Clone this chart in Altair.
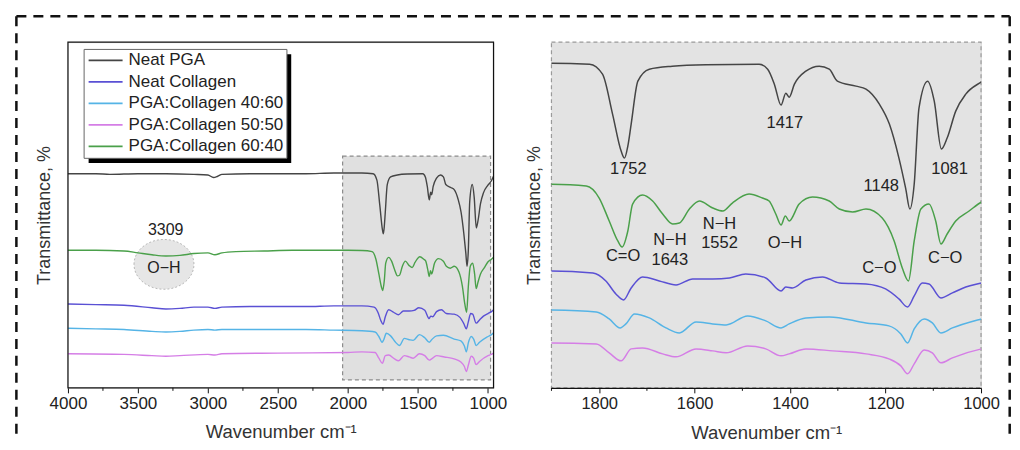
import altair as alt
import pandas as pd

series_names = ["Neat PGA", "Neat Collagen", "PGA:Collagen 40:60",
                "PGA:Collagen 50:50", "PGA:Collagen 60:40"]
series_colors = ["#454545", "#5a50d4", "#55b4e6", "#d57ee6", "#4aa04a"]

wn_pga = [4000, 3800, 3700, 3500, 3300, 3100, 3000, 2960, 2930, 2900, 2700, 2500, 2300, 2100, 1900,
          1820, 1793, 1772, 1754, 1747, 1740, 1733, 1719, 1695, 1647, 1576, 1465, 1447, 1433, 1419,
          1409, 1402, 1391, 1367, 1339, 1318, 1301, 1262, 1241, 1213, 1192, 1172, 1158, 1149, 1140,
          1130, 1112, 1098, 1083, 1071, 1053, 1032, 1000, 975, 960]
t_pga = [337, 337, 336, 337, 337, 336, 335, 331, 333, 336, 337, 337, 337, 338, 338,
         337, 327, 287, 250, 243, 255, 277, 320, 332, 335, 336.5, 337, 332, 317, 296,
         308, 304, 317, 330, 335, 332, 320, 315, 312, 297, 277, 243, 213, 192, 217,
         293, 320, 300, 252, 263, 290, 307, 319, 326, 333]

wn_col = [4000, 3800, 3600, 3400, 3300, 3200, 3100, 3000, 2950, 2900, 2700, 2500, 2300, 2100, 1900,
          1813, 1786, 1765, 1749, 1733, 1709, 1674, 1639, 1604, 1562, 1527, 1493, 1451, 1419, 1409,
          1395, 1367, 1332, 1297, 1241, 1200, 1172, 1154, 1140, 1123, 1109, 1084, 1060, 1032, 999,
          975, 960]
t_col = [133, 132, 131, 127, 125, 126, 128, 128, 126, 128, 129, 129, 129, 130, 130,
         128, 120, 107, 101, 113, 124, 120, 116, 122, 122, 123, 127, 123, 110, 114,
         113, 121, 124, 118, 117, 112, 102, 94, 105, 118, 117, 103, 108, 114, 118,
         121, 124]

wn_4060 = [4000, 3800, 3600, 3400, 3300, 3200, 3100, 3000, 2950, 2900, 2700, 2500, 2300, 2100, 1900,
           1806, 1779, 1756, 1744, 1726, 1695, 1660, 1632, 1597, 1562, 1534, 1489, 1451, 1419, 1402,
           1367, 1318, 1241, 1193, 1168, 1154, 1140, 1119, 1102, 1084, 1060, 999, 975, 960]
t_4060 = [95, 94, 93, 90, 89, 90, 92, 93, 92, 93, 93, 93, 93, 92, 91,
          89, 82, 73, 77, 87, 83, 73, 68, 79, 77, 76, 85, 80, 73, 77,
          83, 84, 78, 75, 67, 58, 72, 82, 78, 68, 73, 82, 85, 88]

wn_5050 = [4000, 3600, 3400, 3300, 3200, 3000, 2950, 2900, 2500, 2000, 1900,
           1806, 1779, 1754, 1733, 1709, 1667, 1639, 1597, 1562, 1534, 1489, 1451, 1419, 1402,
           1367, 1311, 1241, 1193, 1168, 1154, 1140, 1119, 1102, 1084, 1060, 999, 975, 960]
t_5050 = [55, 54, 52, 51, 52, 54, 53, 55, 56, 57, 58,
          57, 48, 40, 52, 53, 47, 44, 52, 50, 48, 55, 52, 45, 47,
          52, 50, 47, 42, 35, 27, 37, 51, 48, 38, 43, 52, 54, 56]

wn_6040 = [4000, 3800, 3600, 3500, 3400, 3300, 3200, 3100, 3000, 2950, 2900, 2800, 2600, 2400, 2200,
           2000, 1900, 1827, 1800, 1779, 1761, 1752, 1740, 1730, 1709, 1688, 1667, 1646, 1632, 1611,
           1590, 1562, 1541, 1521, 1486, 1458, 1444, 1430, 1419, 1410, 1402, 1381, 1353, 1318, 1297,
           1269, 1241, 1207, 1182, 1165, 1152, 1140, 1126, 1109, 1095, 1084, 1071, 1053, 1025, 999,
           975, 960]
t_6040 = [217, 217, 216, 213, 210, 208, 209, 212, 213, 210, 213, 215, 216, 217, 217,
          217, 216.7, 215, 203, 180, 160, 154, 170, 197, 206, 200, 187, 177, 178, 192,
          200, 193, 190, 198, 207, 203, 200, 187, 176, 185, 180, 197, 204, 200, 192,
          189, 192, 183, 160, 133, 120, 160, 192, 197, 180, 157, 167, 180, 190, 199,
          203, 206]

left_ticks = [4000, 3500, 3000, 2500, 2000, 1500, 1000]
left_minor = [3750, 3250, 2750, 2250, 1750, 1250]
right_ticks = [1800, 1600, 1400, 1200, 1000]
right_minor = [1900, 1700, 1500, 1300, 1100]

right_lab_text = ["1752", "1417", "1148", "1081", "C=O", "N\u2212H", "1643", "N\u2212H", "1552",
                  "O\u2212H", "C\u2212O", "C\u2212O"]
right_lab_wn = [1739, 1411, 1209, 1066, 1750, 1652, 1652, 1548, 1548, 1411, 1213, 1075]
right_lab_t = [231.7, 278.3, 215, 231.7, 145, 160.7, 141, 176.7, 157.7, 158.3, 133.3, 143.3]

left_lab_text = ["3309", "O\u2212H"]
left_lab_wn = [3302, 3314]
left_lab_t = [248.4, 189.8]

oh_wn = [3314]
oh_t = [195]
zoom_wn = [2038, 981]
zoom_t = [14, 364.6]

FONT = "Liberation Sans"
LW, LH = 426, 346
RW, RH = 430, 346

rows = []
for name, wn, t in zip(series_names, [wn_pga, wn_col, wn_4060, wn_5050, wn_6040],
                       [t_pga, t_col, t_4060, t_5050, t_6040]):
    for i, (w, v) in enumerate(zip(wn, t)):
        rows.append({"wn": w, "t": v, "series": name, "order": i})
df = pd.DataFrame(rows)

one = pd.DataFrame({"k": [0]})

# ---------------- left panel ----------------
xl = alt.X("wn:Q", scale=alt.Scale(domain=[4000, 960], nice=False, zero=False),
           axis=alt.Axis(values=left_ticks, format="d", title="Wavenumber cm\u207b\u00b9",
                         domain=False, grid=False, tickSize=5, tickColor="#111", tickWidth=1,
                         labelFlush=False, labelFontSize=17, labelPadding=3, labelColor="#222",
                         titleFontSize=18.5, titlePadding=11, titleColor="#333",
                         titleFontWeight="normal"))
yl = alt.Y("t:Q", scale=alt.Scale(domain=[1.6, 543], nice=False, zero=False),
           axis=alt.Axis(title="Transmittance, %", labels=False, ticks=False, domain=False,
                         grid=False, titleFontSize=18, titlePadding=14, titleColor="#333",
                         titleFontWeight="normal"))

zoom_df = pd.DataFrame({"wn": [zoom_wn[0]], "wn2": [zoom_wn[1]], "t": [zoom_t[0]], "t2": [zoom_t[1]]})
shade = alt.Chart(zoom_df).mark_rect(fill="#e0e0e0", stroke="#8c8c8c", strokeDash=[4, 3],
                                     strokeWidth=1.2).encode(
    x=xl, x2="wn2:Q", y=yl, y2="t2:Q")

oh_df = pd.DataFrame({"wn": oh_wn, "t": oh_t})
ellipse = alt.Chart(oh_df).mark_point(
    shape="M-1,0A1,0.83,0,1,1,1,0A1,0.83,0,1,1,-1,0Z", size=3600, fill="#e6e6e6",
    fillOpacity=1, opacity=1, stroke="#b8b8b8", strokeWidth=1, strokeDash=[2, 2]).encode(x=xl, y=yl)

left_lines = alt.Chart(df).mark_line(strokeWidth=1.4, interpolate="monotone").encode(
    x=xl, y=yl, order="order:Q",
    color=alt.Color("series:N", scale=alt.Scale(domain=series_names, range=series_colors),
                    legend=alt.Legend(title=None, orient="none", legendX=15.7, legendY=6.75,
                                      symbolType="M-3.4,0L3.4,0", symbolSize=100,
                                      symbolStrokeWidth=1.8, symbolOffset=10.5,
                                      labelOffset=14.5, labelFontSize=17, labelColor="#222",
                                      labelFont=FONT, rowPadding=3.5, padding=3,
                                      fillColor="white", strokeColor="#666")))

left_lab_df = pd.DataFrame({"wn": left_lab_wn, "t": left_lab_t, "txt": left_lab_text})
left_text = alt.Chart(left_lab_df).mark_text(fontSize=16, font=FONT, color="#222",
                                             align="center", baseline="middle").encode(
    x=xl, y=yl, text="txt:N")

shadow = alt.Chart(one).mark_rect(fill="#000").encode(
    x=alt.value(20.7), x2=alt.value(223.5), y=alt.value(12), y2=alt.value(121))

frame_l = alt.Chart(one).mark_rect(fill="transparent", stroke="#111", strokeWidth=1.2).encode(
    x=alt.value(0), x2=alt.value(LW), y=alt.value(0), y2=alt.value(LH))

minor_l = alt.Chart(pd.DataFrame({"wn": left_minor})).mark_rule(color="#111", strokeWidth=1).encode(
    x=xl, y=alt.value(LH), y2=alt.value(LH + 3))

dash_kw = dict(color="#111", strokeWidth=2.5, strokeDash=[10, 7])
b_top = alt.Chart(one).mark_rule(**dash_kw).encode(
    x=alt.value(-51.6), x2=alt.value(942.7), y=alt.value(-26))
b_left = alt.Chart(one).mark_rule(**dash_kw).encode(
    x=alt.value(-51.6), y=alt.value(-26), y2=alt.value(399))
b_right = alt.Chart(one).mark_rule(**dash_kw).encode(
    x=alt.value(942.7), y=alt.value(-26), y2=alt.value(399))

left = alt.layer(shade, ellipse, left_lines, left_text, shadow, frame_l, minor_l,
                 b_top, b_left, b_right).properties(width=LW, height=LH)

# ---------------- right panel ----------------
xr = alt.X("wn:Q", scale=alt.Scale(domain=[1900, 1000], nice=False, zero=False),
           axis=alt.Axis(values=right_ticks, format="d", title="Wavenumber cm\u207b\u00b9",
                         domain=True, domainColor="#111", domainWidth=1.2, grid=False,
                         tickSize=5, tickColor="#111", tickWidth=1, zindex=1,
                         labelFlush=False, labelFontSize=16.5, labelPadding=3, labelColor="#222",
                         titleFontSize=18.5, titlePadding=11, titleColor="#333",
                         titleFontWeight="normal"))
yr = alt.Y("t:Q", scale=alt.Scale(domain=[13, 359], nice=False, zero=False),
           axis=alt.Axis(title="Transmittance, %", labels=False, ticks=False, domain=False,
                         grid=False, titleFontSize=18, titlePadding=8, titleColor="#333",
                         titleFontWeight="normal"))

bg_r = alt.Chart(one).mark_rect(fill="#e3e3e3", stroke="#9a9a9a", strokeDash=[4, 3],
                                strokeWidth=1.2).encode(
    x=alt.value(0), x2=alt.value(RW), y=alt.value(0), y2=alt.value(RH))

right_lines = alt.Chart(df).mark_line(strokeWidth=1.5, interpolate="monotone", clip=True).encode(
    x=xr, y=yr, order="order:Q",
    color=alt.Color("series:N", scale=alt.Scale(domain=series_names, range=series_colors),
                    legend=None))

right_lab_df = pd.DataFrame({"wn": right_lab_wn, "t": right_lab_t, "txt": right_lab_text})
right_text = alt.Chart(right_lab_df).mark_text(fontSize=16.5, font=FONT, color="#222",
                                               align="center", baseline="middle").encode(
    x=xr, y=yr, text="txt:N")

minor_r = alt.Chart(pd.DataFrame({"wn": right_minor})).mark_rule(color="#111", strokeWidth=1).encode(
    x=xr, y=alt.value(RH), y2=alt.value(RH + 3))

right = alt.layer(bg_r, right_lines, right_text, minor_r).properties(width=RW, height=RH)

chart = alt.hconcat(left, right, spacing=58, bounds="flush").resolve_scale(
    x="independent", y="independent", color="independent"
).properties(
    padding={"left": 6, "top": 6, "right": 0, "bottom": 0}, background="white"
).configure_view(strokeWidth=0).configure(font=FONT)

chart.save("out.html", embed_options={"renderer": "svg", "actions": False})
